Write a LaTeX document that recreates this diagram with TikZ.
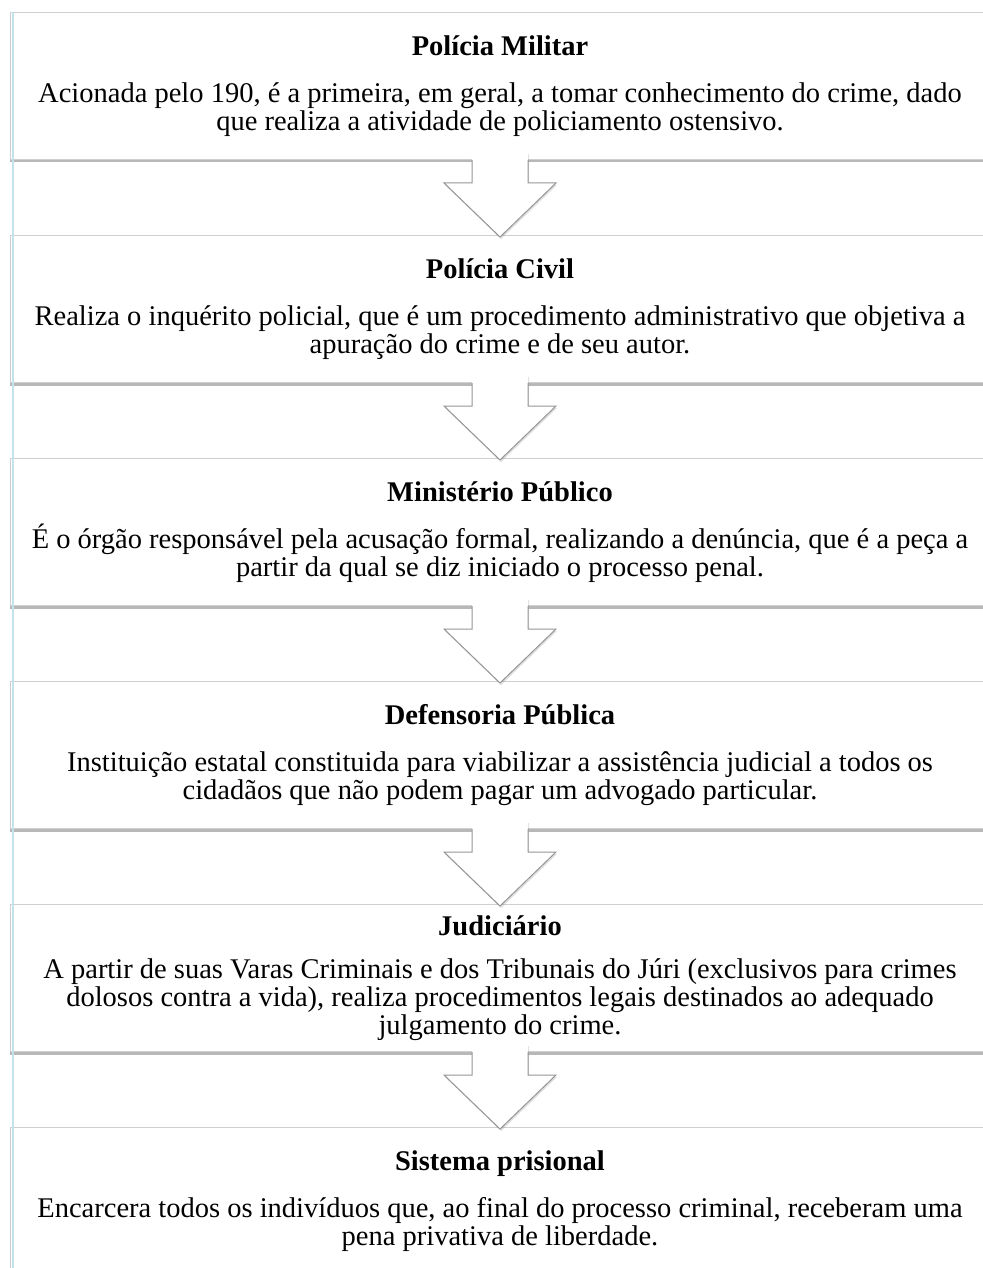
\documentclass[tikz,border=0pt]{standalone}
\usepackage{fontspec}
\setmainfont{Liberation Serif}
\usetikzlibrary{shadows,calc}
\definecolor{boxline}{RGB}{204,208,210}
\definecolor{tablerule}{RGB}{196,226,234}
\definecolor{arrowline}{RGB}{150,150,150}
\begin{document}
\begin{tikzpicture}[x=1pt,y=-1pt]
	\useasboundingbox[fill=white] (0,0) rectangle (982,1268);
	\begin{scope}[font=\fontsize{28.5}{28}\selectfont]
		\tikzstyle{every node}=[draw=boxline,fill=white,line width=1pt,minimum width=980pt,minimum height=147pt,align=center,anchor=north,drop shadow={shadow xshift=0pt,shadow yshift=-3pt,opacity=.5,fill=black!55}];
		\path (500,  12) node (pm)  {\textbf{Polícia Militar}\\[19pt]Acionada pelo 190, é a primeira, em geral, a tomar conhecimento do crime, dado\\que realiza a atividade de policiamento ostensivo.};
		\path (500, 235) node (pc)  {\textbf{Polícia Civil}\\[19pt]Realiza o inquérito policial, que é um procedimento administrativo que objetiva a\\apuração do crime e de seu autor.};
		\path (500, 458) node (mp)  {\textbf{Ministério Público}\\[19pt]É o órgão responsável pela acusação formal, realizando a denúncia, que é a peça a\\partir da qual se diz iniciado o processo penal.};
		\path (500, 681) node (dp)  {\textbf{Defensoria Pública}\\[19pt]Instituição estatal constituida para viabilizar a assistência judicial a todos os\\cidadãos que não podem pagar um advogado particular.};
		\path (500, 904) node (jud) {\textbf{Judiciário}\\[15pt]A partir de suas Varas Criminais e dos Tribunais do Júri (exclusivos para crimes\\dolosos contra a vida), realiza procedimentos legais destinados ao adequado\\julgamento do crime.};
		\path (500,1127) node (sp)  {\textbf{Sistema prisional}\\[19pt]Encarcera todos os indivíduos que, ao final do processo criminal, receberam uma\\pena privativa de liberdade.};
	\end{scope}
	\draw[tablerule,line width=1.5pt] (13,12) -- (13,1268);
	\foreach \a/\b in {pm/pc,pc/mp,mp/dp,dp/jud,jud/sp}{
		\fill[white,drop shadow={shadow xshift=1pt,shadow yshift=-2pt,opacity=.25,fill=black!50}] ($(\a.south)+(-28,-8)$) -- ($(\a.south)+(-28,23)$) -- ($(\a.south)+(-56,23)$) -- ($(\b.north)+(0,2)$) -- ($(\a.south)+(56,23)$) -- ($(\a.south)+(28,23)$) -- ($(\a.south)+(28,-8)$) -- cycle;
		\draw[arrowline,line width=1pt] ($(\a.south)+(-28,0)$) -- ($(\a.south)+(-28,23)$) -- ($(\a.south)+(-56,23)$) -- ($(\b.north)+(0,2)$) -- ($(\a.south)+(56,23)$) -- ($(\a.south)+(28,23)$) -- ($(\a.south)+(28,0)$);
	}
\end{tikzpicture}
\end{document}
